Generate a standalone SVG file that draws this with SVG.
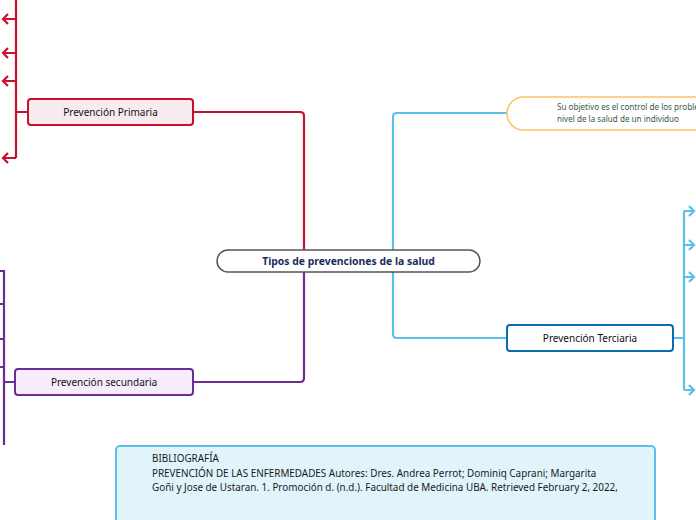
<svg xmlns="http://www.w3.org/2000/svg" width="696" height="520" viewBox="0 0 696 520">
<defs>
<style>
.t{font-family:"Noto Sans","Open Sans",sans-serif;font-size:10px;fill:#111;text-anchor:middle}
.red{stroke:#c8102e;stroke-width:2.2;fill:none}
.pur{stroke:#6b2d93;stroke-width:2.2;fill:none}
.blu{stroke:#5bbfea;stroke-width:2.2;fill:none}
</style>
</defs>
<rect width="696" height="520" fill="#fff"/>
<g id="connectors">
<path class="red" d="M193,112 H300 Q304,112 304,116 V250"/>
<path class="red" d="M16,0 V158 M28,112 H16"/>
<path class="red" d="M16,19 H3 M8,14 L3,19 L8,24"/>
<path class="red" d="M16,53 H3 M8,48 L3,53 L8,58"/>
<path class="red" d="M16,81 H3 M8,76 L3,81 L8,86"/>
<path class="red" d="M16,158 H3 M8,153 L3,158 L8,163"/>
<path class="pur" d="M304,272 V378 Q304,382 300,382 H193"/>
<path class="pur" d="M4,270 V445 M15,382 H4 M4,271 H0 M4,304 H0 M4,339 H0 M4,367 H0"/>
<path class="blu" d="M393,250 V117 Q393,113 397,113 H507"/>
<path class="blu" d="M393,272 V334 Q393,338 397,338 H507"/>
<path class="blu" d="M673,338 H684 M684,211 V390"/>
<path class="blu" d="M684,211 H694 M689,206 L694,211 L689,216"/>
<path class="blu" d="M684,245 H694 M689,240 L694,245 L689,250"/>
<path class="blu" d="M684,277 H694 M689,272 L694,277 L689,282"/>
<path class="blu" d="M684,390 H694 M689,385 L694,390 L689,395"/>
</g>
<g id="center">
<rect x="217" y="250" width="263" height="22" rx="11" fill="#fff" stroke="#555" stroke-width="1.5"/>
<text x="348.5" y="265" class="t" style="font-weight:bold;font-size:10.4px;fill:#1b2d5c">Tipos  de prevenciones de la salud</text>
</g>
<g id="primaria">
<rect x="28" y="99" width="165" height="26" rx="3" fill="#f8ebef" stroke="#c8102e" stroke-width="2"/>
<text x="110.5" y="116" class="t">Prevención Primaria</text>
</g>
<g id="secundaria">
<rect x="15" y="369" width="178" height="26" rx="3" fill="#f6ecfc" stroke="#6b2d93" stroke-width="2"/>
<text x="104" y="386" class="t">Prevención secundaria</text>
</g>
<g id="terciaria">
<rect x="507" y="325" width="166" height="26" rx="3" fill="#fff" stroke="#0b6cae" stroke-width="2"/>
<text x="590" y="342" class="t">Prevención Terciaria</text>
</g>
<g id="objetivo">
<rect x="507" y="97" width="240" height="33" rx="16.5" fill="#fff" stroke="#fbc165" stroke-width="1.5"/>
<text x="557" y="110" class="t" style="text-anchor:start;font-size:8.1px;fill:#3a5a48">Su objetivo es el control de los problemas</text>
<text x="557" y="122" class="t" style="text-anchor:start;font-size:8.1px;fill:#3a5a48">nivel de la salud  de un individuo</text>
</g>
<g id="bibliografia">
<rect x="116" y="446" width="539" height="90" rx="4" fill="#e1f4fb" stroke="#5bbfea" stroke-width="2"/>
<text class="t" style="text-anchor:start;font-size:9.9px;fill:#1a1a1a">
<tspan x="152" y="462">BIBLIOGRAFÍA</tspan>
<tspan x="152" y="477">PREVENCIÓN DE LAS ENFERMEDADES Autores: Dres. Andrea Perrot; Dominiq Caprani; Margarita</tspan>
<tspan x="152" y="491">Goñi y Jose de Ustaran. 1. Promoción d. (n.d.). Facultad de Medicina UBA. Retrieved February 2, 2022,</tspan>
</text>
</g>
</svg>
